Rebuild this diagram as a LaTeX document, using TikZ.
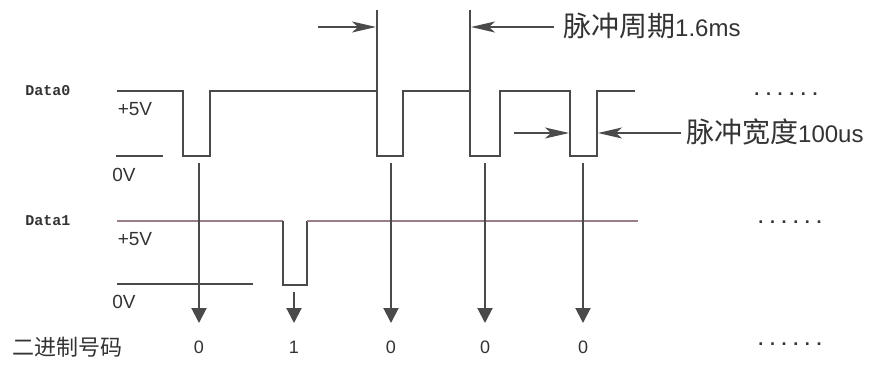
\documentclass[tikz,border=0pt]{standalone}
\usepackage{fontspec}
\setmainfont{Liberation Sans}
\newfontfamily\cjk{Noto Sans CJK SC}
\newfontfamily\bmfont{Liberation Mono}
\usetikzlibrary{arrows.meta}
\definecolor{wave}{HTML}{4A4A4A}
\definecolor{wavered}{HTML}{9A7F86}
\definecolor{txt}{HTML}{333333}
\begin{document}
\begin{tikzpicture}[x=1pt,y=-1pt,
  wire/.style={draw=wave, line width=1.8pt, line join=miter},
  redwire/.style={draw=wavered, line width=1.8pt, line join=miter},
  downarrow/.style={draw=wave, line width=2pt, -{Triangle[length=15pt,width=15pt]}},
  dimarrow/.style={draw=wave, line width=1.5pt, -{Stealth[length=24pt,width=11pt,inset=6pt]}},
  lbl/.style={text=txt, inner sep=0pt, font=\fontsize{19}{19}\selectfont},
  bitlbl/.style={text=txt, inner sep=0pt, font=\fontsize{18}{18}\selectfont},
  chlbl/.style={text=txt, inner sep=0pt, anchor=west},
  datalbl/.style={text=txt, inner sep=0pt, font=\fontsize{15}{15}\bmfont\bfseries},
  dotslbl/.style={text=txt, inner sep=0pt, font=\fontsize{18}{18}\selectfont\bfseries\addfontfeature{LetterSpace=37}}
]
\useasboundingbox (0,0) rectangle (873,376);

% Data0 waveform
\draw[wire] (117,91) -- (183,91) -- (183,156) -- (210,156) -- (210,91)
  -- (377,91) -- (377,156) -- (403,156) -- (403,91)
  -- (470,91) -- (470,156) -- (500,156) -- (500,91)
  -- (570,91) -- (570,156) -- (597,156) -- (597,91) -- (635,91);
\draw[wire] (116,156) -- (163,156);
% period markers
\draw[wire] (377,10) -- (377,91);
\draw[wire] (470,10) -- (470,91);

% Data1 waveform
\draw[redwire] (117,221) -- (283,221);
\draw[wire] (283,221) -- (283,285) -- (307,285) -- (307,221);
\draw[redwire] (307,221) -- (638,221);
\draw[wire] (117,284) -- (253,284);

% labels
\node[datalbl] (d0) at (48,91) {Data0};
\node[datalbl] (d1) at (48,221) {Data1};
\node[lbl] (p5a) at (135,109) {+5V};
\node[lbl] (z0a) at (124,175) {0V};
\node[lbl] (p5b) at (135,239) {+5V};
\node[lbl] (z0b) at (124,302) {0V};
\node[chlbl, font=\fontsize{22}{22}\cjk] (bin) at (12,347) {二进制号码};

% bit labels
\node[bitlbl] (b1) at (199,347) {0};
\node[bitlbl] (b2) at (294,347) {1};
\node[bitlbl] (b3) at (391,347) {0};
\node[bitlbl] (b4) at (485,347) {0};
\node[bitlbl] (b5) at (583,347) {0};

% down arrows
\coordinate (s1) at (199,163); \coordinate (e1) at (199,323);
\coordinate (s2) at (294,292); \coordinate (e2) at (294,323);
\coordinate (s3) at (391,163); \coordinate (e3) at (391,323);
\coordinate (s4) at (485,163); \coordinate (e4) at (485,323);
\coordinate (s5) at (583,163); \coordinate (e5) at (583,323);
\draw[downarrow] (s1) -- (e1);
\draw[downarrow] (s2) -- (e2);
\draw[downarrow] (s3) -- (e3);
\draw[downarrow] (s4) -- (e4);
\draw[downarrow] (s5) -- (e5);

% period dimension
\coordinate (pl) at (318,27); \coordinate (pla) at (376,27);
\coordinate (pr) at (554,27); \coordinate (pra) at (471,27);
\draw[dimarrow] (pl) -- (pla);
\draw[dimarrow] (pr) -- (pra);
\node[chlbl] (per) at (563,26) {{\fontsize{28}{28}\cjk 脉冲周期}{\fontsize{24}{24}\selectfont 1.6ms}};

% width dimension
\coordinate (wl) at (514,133); \coordinate (wla) at (569,133);
\coordinate (wr) at (681,133); \coordinate (wra) at (598,133);
\draw[dimarrow] (wl) -- (wla);
\draw[dimarrow] (wr) -- (wra);
\node[chlbl] (wid) at (686,132) {{\fontsize{28}{28}\cjk 脉冲宽度}{\fontsize{24}{24}\selectfont 100us}};

% continuation dots
\node[dotslbl] (dt1) at (786,94) {......};
\node[dotslbl] (dt2) at (790,222) {......};
\node[dotslbl] (dt3) at (790,344) {......};
\end{tikzpicture}
\end{document}
